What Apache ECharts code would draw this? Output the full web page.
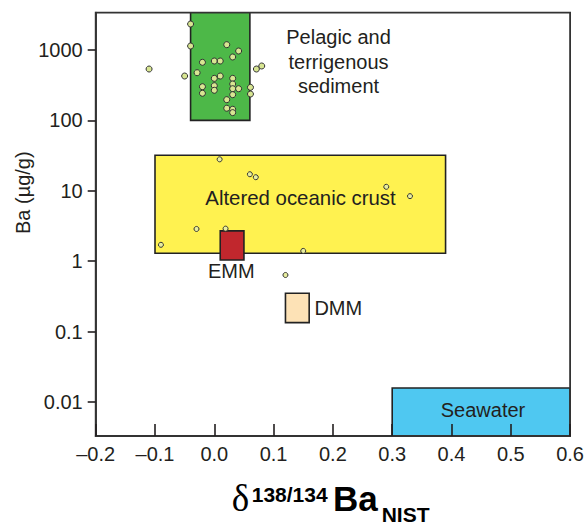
<!DOCTYPE html>
<html><head><meta charset="utf-8">
<script src="https://cdn.jsdelivr.net/npm/echarts@6/dist/echarts.min.js"></script>
<style>html,body{margin:0;padding:0;background:#fff}#c{width:587px;height:524px}</style>
</head><body><div id="c"></div>
<script>
// ---- data ----
const xRange = [-0.2, 0.6];
const xInterval = 0.1;
const yRange = [0.00329, 3388];
const yTickValues = [0.01, 0.1, 1, 10, 100, 1000];

const boxNames = ['Pelagic and terrigenous sediment', 'Altered oceanic crust', 'EMM', 'DMM', 'Seawater'];
const boxXMin = [-0.04, -0.10, 0.01, 0.12, 0.30];
const boxXMax = [ 0.06,  0.39, 0.05, 0.16, 0.60];
const boxYMin = [100, 1.3, 1.04, 0.134, 0.0005];
const boxYMax = [20000, 32, 2.7, 0.35, 0.0158];

const sedimentX = [-0.040, -0.040, 0.021, 0.041, 0.031, 0.000, 0.010, -0.020, 0.080, 0.071,
                   -0.110, -0.029, -0.050, 0.010, 0.000, 0.031, 0.031, 0.000, -0.020, 0.061,
                   0.031, 0.041, 0.000, -0.020, 0.061, 0.031, 0.021, 0.021, 0.031, 0.031];
const sedimentY = [2340, 1140, 1190, 968, 796, 698, 698, 669, 593, 537,
                   537, 476, 427, 427, 396, 396, 329, 311, 301, 295,
                   282, 282, 268, 243, 237, 232, 197, 149, 144, 129];

const otherX = [0.009, 0.060, 0.070, 0.290, 0.330, -0.030, 0.019, -0.090, 0.150, 0.120];
const otherY = [28.0, 17.2, 15.6, 11.4, 8.4, 2.87, 2.90, 1.71, 1.40, 0.637];

// ---- styles ----
const boxColors = ['#4db848', '#fff250', '#c1272d', '#fde2b6', '#4fc8f1'];
const ink = '#231f20';
const FONT = 'Liberation Sans, Arial, Helvetica, sans-serif';

const chart = echarts.init(document.getElementById('c'), null, {renderer: 'svg'});

const boxData = boxNames.map((n, i) => [boxXMin[i], boxXMax[i], boxYMin[i], boxYMax[i]]);
const sedimentData = sedimentX.map((x, i) => [x, sedimentY[i]]);
const otherData = otherX.map((x, i) => [x, otherY[i]]);

function fmtX(v) {
  if (Math.abs(v) < 1e-9) return '0.0';
  const s = Math.abs(v).toFixed(1);
  return v < 0 ? '\u2013' + s : s;
}
function fmtY(v) {
  return String(Number(Number(v).toPrecision(6)));
}

const option = {
  backgroundColor: '#fff',
  animation: false,
  grid: {left: 95.7, right: 16.3, top: 12.7, bottom: 88, show: true,
         borderColor: '#333', borderWidth: 1.8, backgroundColor: 'transparent', z: 10},
  xAxis: {
    type: 'value', min: xRange[0], max: xRange[1], interval: xInterval, z: 10,
    splitLine: {show: false},
    axisLine: {show: true, onZero: false, lineStyle: {color: '#333', width: 1.8}},
    axisTick: {show: true, inside: true, length: 12, lineStyle: {color: ink, width: 1.6}},
    axisLabel: {formatter: fmtX, fontSize: 20, color: ink, fontFamily: FONT, margin: 8}
  },
  yAxis: {
    type: 'log', logBase: 10, min: yRange[0], max: yRange[1], z: 10,
    splitLine: {show: false},
    axisLine: {show: true, onZero: false, lineStyle: {color: '#333', width: 1.8}},
    axisTick: {show: true, inside: false, length: 8, customValues: yTickValues, lineStyle: {color: ink, width: 1.6}},
    axisLabel: {customValues: yTickValues, formatter: fmtY, fontSize: 20, color: ink, fontFamily: FONT, margin: 13}
  },
  series: [
    {
      type: 'custom', name: 'boxes', clip: true, z: 2,
      data: boxData,
      renderItem: function (params, api) {
        const p0 = api.coord([api.value(0), api.value(3)]);
        const p1 = api.coord([api.value(1), api.value(2)]);
        return {
          type: 'rect',
          shape: {x: p0[0], y: p0[1], width: p1[0] - p0[0], height: p1[1] - p0[1]},
          style: {fill: boxColors[params.dataIndex], stroke: '#222', lineWidth: 1.6}
        };
      }
    },
    {
      type: 'scatter', name: 'sediment', z: 5, data: sedimentData,
      symbol: 'circle', symbolSize: 6,
      itemStyle: {color: '#d8e692', borderColor: '#333', borderWidth: 1, opacity: 1}
    },
    {
      type: 'scatter', name: 'other', z: 5, data: otherData,
      symbol: 'circle', symbolSize: 5,
      itemStyle: {color: '#e8ee9e', borderColor: '#333', borderWidth: 1, opacity: 1}
    }
  ],
  graphic: [
    {type: 'text', x: 338.5, y: 61.7, z: 20, style: {text: 'Pelagic and\nterrigenous\nsediment', align: 'center', verticalAlign: 'middle', lineHeight: 24.5, fontSize: 20, fontFamily: FONT, fill: ink}},
    {type: 'text', x: 300.5, y: 198, z: 20, style: {text: 'Altered oceanic crust', align: 'center', verticalAlign: 'middle', fontSize: 20.4, fontFamily: FONT, fill: ink}},
    {type: 'text', x: 231.3, y: 271, z: 20, style: {text: 'EMM', align: 'center', verticalAlign: 'middle', fontSize: 20, fontFamily: FONT, fill: ink}},
    {type: 'text', x: 338.3, y: 307.5, z: 20, style: {text: 'DMM', align: 'center', verticalAlign: 'middle', fontSize: 20, fontFamily: FONT, fill: ink}},
    {type: 'text', x: 483, y: 410.3, z: 20, style: {text: 'Seawater', align: 'center', verticalAlign: 'middle', fontSize: 20, fontFamily: FONT, fill: ink}},
    {type: 'text', x: 22.8, y: 192.7, rotation: Math.PI / 2, z: 20, style: {text: 'Ba (\u00b5g/g)', align: 'center', verticalAlign: 'middle', fontSize: 20, fontFamily: FONT, fill: ink}},
    {type: 'text', x: 231.7, y: 498, z: 20, style: {text: '\u03b4', align: 'left', verticalAlign: 'middle', fontSize: 37, fontFamily: 'Liberation Serif, Times New Roman, serif', fill: '#000'}},
    {type: 'text', x: 251.7, y: 494.5, z: 20, style: {text: '138/134', align: 'left', verticalAlign: 'middle', fontSize: 21, fontWeight: 'bold', fontFamily: FONT, fill: '#000'}},
    {type: 'text', x: 333, y: 498.5, z: 20, style: {text: 'Ba', align: 'left', verticalAlign: 'middle', fontSize: 35, fontWeight: 'bold', fontFamily: FONT, fill: '#000'}},
    {type: 'text', x: 381.7, y: 514, z: 20, style: {text: 'NIST', align: 'left', verticalAlign: 'middle', fontSize: 21, fontWeight: 'bold', fontFamily: FONT, fill: '#000'}}
  ]
};
chart.setOption(option);
</script>
</body></html>
